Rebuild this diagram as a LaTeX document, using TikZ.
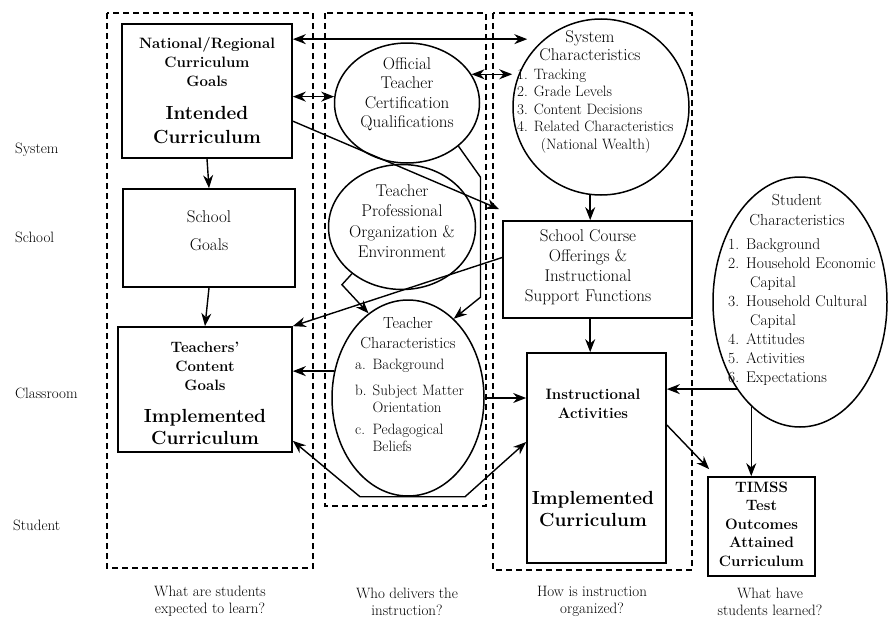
\documentclass[tikz,border=0pt]{standalone}
\usetikzlibrary{arrows.meta,calc,shapes.geometric}
\tikzset{
  box/.style={draw, line width=1.7pt, inner sep=0pt},
  oval/.style={draw, ellipse, line width=1.5pt, inner sep=0pt},
  ring/.style={draw, circle, line width=1.5pt, inner sep=0pt},
  dashbox/.style={line width=1.3pt, dash pattern=on 6pt off 4pt},
  link/.style={line width=1.4pt},
  txt/.style={align=center, inner sep=0pt, font=\fontsize{17}{20}\selectfont},
  bold/.style={align=center, inner sep=0pt, font=\fontsize{15}{19}\selectfont\bfseries},
  big/.style={align=center, inner sep=0pt, font=\fontsize{19}{22}\selectfont\bfseries},
  item/.style={inner sep=0pt, font=\fontsize{15}{17.5}\selectfont},
  lbl/.style={inner sep=0pt, font=\fontsize{15}{17}\selectfont}
}
\begin{document}
\begin{tikzpicture}[x=1pt, y=-1pt, >={Stealth[length=13pt,width=10pt]}]
    \useasboundingbox (0,0) rectangle (889,621);

    \node[lbl, anchor=west] (rSystem) at (15,150) {System};
    \node[lbl, anchor=west] (rSchool) at (15,237) {School};
    \node[lbl, anchor=west] (rClass) at (15,393) {Classroom};
    \node[lbl, anchor=west] (rStudent) at (13,525) {Student};

    \draw[dashbox] (107,13) rectangle (313,568);
    \draw[dashbox] (325,13) rectangle (486,506);
    \draw[dashbox] (493,13) rectangle (692,570);

    \node[box, minimum width=170, minimum height=134] (nat) at (207,91) {};
    \node[bold] (natA) at (207,62) {National/Regional\\Curriculum\\Goals};
    \node[big, font=\fontsize{19}{24}\selectfont\bfseries] (natB) at (207,125) {Intended\\Curriculum};

    \node[box, minimum width=172, minimum height=98] (school) at (209,238) {};
    \node[txt, font=\fontsize{17}{28}\selectfont] (schoolT) at (209,231) {School\\Goals};

    \node[box, minimum width=174, minimum height=125] (teach) at (205,389.5) {};
    \node[bold] (teachA) at (205,366) {Teachers'\\Content\\Goals};
    \node[big] (teachB) at (205,427.5) {Implemented\\Curriculum};

    \node[oval, minimum width=145, minimum height=120] (off) at (407,103) {};
    \node[txt, font=\fontsize{17}{19.5}\selectfont] (offT) at (407,94) {Official\\Teacher\\Certification\\Qualifications};

    \node[oval, minimum width=147, minimum height=125] (prof) at (402,227) {};
    \node[txt, font=\fontsize{17}{20.5}\selectfont] (profT) at (402,221) {Teacher\\Professional\\Organization \&\\Environment};

    \node[oval, minimum width=152, minimum height=196] (tch) at (408,398) {};
    \node[txt, font=\fontsize{16}{20}\selectfont] (tchT) at (408,333) {Teacher\\Characteristics};
    \node[item, font=\fontsize{15}{17}\selectfont, anchor=west] (tchL) at (355,407.5) {\begin{tabular}{@{}l@{\hspace{6pt}}l@{}}a.&Background\\[9pt]b.&Subject Matter\\&Orientation\\[5pt]c.&Pedagogical\\&Beliefs\end{tabular}};

    \node[ring, minimum size=176] (sys) at (601,107) {};
    \node[txt, font=\fontsize{17}{18}\selectfont] (sysT) at (590,46) {System\\Characteristics};
    \node[item, anchor=west] (sysL) at (517,110.5) {\begin{tabular}{@{}l@{\hspace{6pt}}l@{}}1.&Tracking\\2.&Grade Levels\\3.&Content Decisions\\4.&Related Characteristics\\&\hspace{7pt}(National Wealth)\end{tabular}};

    \node[box, minimum width=189, minimum height=97] (course) at (597.5,269.5) {};
    \node[txt] (courseT) at (588,267) {School Course\\Offerings \&\\Instructional\\Support Functions};

    \node[box, minimum width=139, minimum height=210] (instr) at (596.5,458) {};
    \node[bold] (instrA) at (593,403.5) {Instructional\\Activities};
    \node[big] (instrB) at (593,509) {Implemented\\Curriculum};

    \node[oval, minimum width=174, minimum height=250] (stu) at (800,302) {};
    \node[txt, font=\fontsize{16}{20}\selectfont] (stuT) at (797,210) {Student\\Characteristics};
    \node[item, font=\fontsize{15.5}{19}\selectfont, anchor=west] (stuL) at (728,312) {\begin{tabular}{@{}l@{\hspace{7pt}}l@{}}1.&Background\\2.&Household Economic\\&\hspace{4pt}Capital\\3.&Household Cultural\\&\hspace{4pt}Capital\\4.&Attitudes\\5.&Activities\\6.&Expectations\end{tabular}};

    \node[box, minimum width=107, minimum height=99] (timss) at (761.5,526.5) {};
    \node[bold, font=\fontsize{15}{18.5}\selectfont\bfseries] (timssT) at (761.5,524) {TIMSS\\Test\\Outcomes\\Attained\\Curriculum};

    \node[lbl, align=center] (qLearn) at (210,601.5) {What are students\\expected to learn?};
    \node[lbl, align=center] (qWho) at (407,601.5) {Who delivers the\\instruction?};
    \node[lbl, align=center] (qHow) at (592,601.5) {How is instruction\\organized?};
    \node[lbl, align=center] (qHave) at (770,601.5) {What have\\students learned?};

    \draw[link, <->] ([yshift=-16pt]nat.north east) -- ($(sys.west |- nat.north east)+(15,16)$);
    \draw[link, <->] (nat.east |- off.175) -- (off.175);
    \draw[link, <->] (off.24) -- (sys.west |- off.24);
    \draw[link, ->] ([yshift=-98pt]nat.north east) -- ([shift={(-3,-11)}]course.north west);
    \draw[link, ->] (nat.south) -- (school.north);
    \draw[link, ->] (school.south) -- (teach.north);
    \draw[link, ->] (off.-40) -- ++(22,31) -- ++(0,120) -- (tch.60);
    \draw[link, ->] (prof.223) -- ++(-10,11) -- (tch.115);
    \draw[link, ->] ([yshift=12pt]course.west) -- (teach.north east);
    \draw[link, ->] (tch.160) -- (teach.east |- tch.160);
    \draw[link, ->] (tch.east) -- (instr.west |- tch.east);
    \draw[link, <->] ([yshift=12pt]teach.south east) -- ([xshift=-48pt]tch.south) -- ([xshift=57pt]tch.south) -- ([yshift=16pt]instr.west);
    \draw[link, ->] (sys.263) -- (course.north -| sys.263);
    \draw[link, ->] (course.south -| sys.263) -- (instr.north -| sys.263);
    \draw[link, ->] ([yshift=33pt]instr.east) -- ([shift={(2,-7)}]timss.north west);
    \draw[link, ->] (stu.234) -- (instr.east |- stu.234);
    \draw[link, ->] (stu.245) -- (timss.north -| stu.245);
\end{tikzpicture}
\end{document}
